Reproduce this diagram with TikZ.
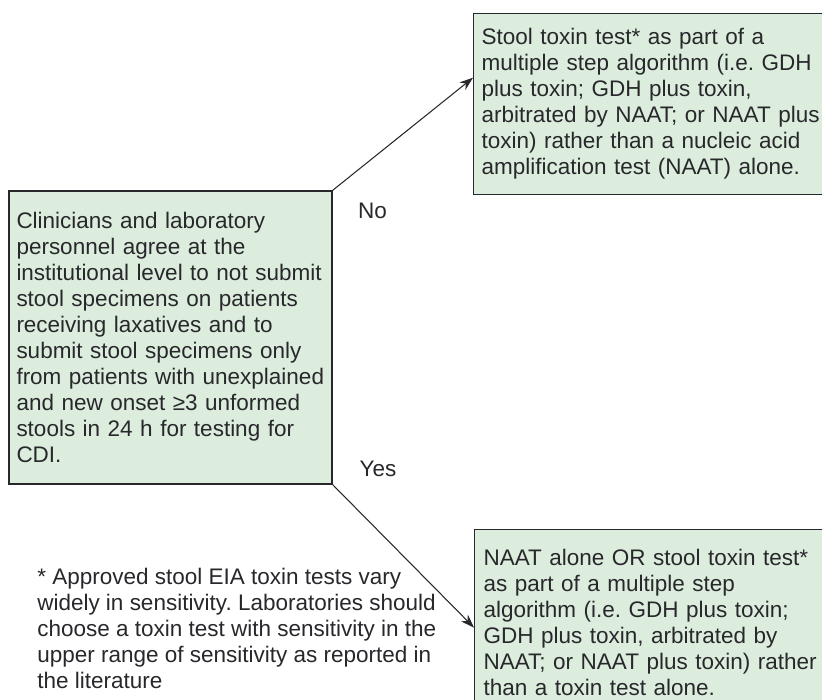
\documentclass[tikz,border=0pt]{standalone}
\usepackage{fontspec}
\setmainfont{Liberation Sans}
\usepackage{tikz}
\usetikzlibrary{arrows.meta, positioning}
\frenchspacing
\definecolor{boxgreen}{RGB}{220,237,221}
\definecolor{inkgray}{RGB}{40,40,44}
\tikzstyle{block} = [rectangle, draw=inkgray, line width=0.9pt, fill=boxgreen, text=inkgray, align=left, inner ysep=0pt, font=\fontsize{16}{18.5}\selectfont]
\tikzstyle{label} = [text=inkgray, font=\fontsize{16}{18.5}\selectfont]
\tikzstyle{arrow} = [-{Stealth[length=3.4mm, width=2.4mm]}, draw=inkgray, line width=0.75pt]

\begin{document}
\begin{tikzpicture}

    \path[use as bounding box, fill=white] (0, 0) rectangle (20.55, 17.5);

    \node (agree) [block, text width=7.7cm, inner xsep=0.1875cm, minimum height=7.325cm] at (4.2625, 9.0625) {Clinicians and laboratory\\ personnel agree at the\\ institutional level to not submit\\ stool specimens on patients\\ receiving laxatives and to\\ submit stool specimens only\\ from patients with unexplained\\ and new onset ≥3 unformed\\ stools in 24 h for testing for\\ CDI.};
    \node (notest) [block, text width=10.5cm, inner xsep=0.2cm, minimum height=4.525cm, anchor=north west] at (11.825, 17.175) {Stool toxin test* as part of a\\ multiple step algorithm (i.e. GDH\\ plus toxin; GDH plus toxin,\\ arbitrated by NAAT; or NAAT plus\\ toxin) rather than a nucleic acid\\ amplification test (NAAT) alone.};
    \node (yestest) [block, text width=10.5cm, inner xsep=0.225cm, minimum height=4.65cm, anchor=north west] at (11.85, 4.275) {NAAT alone OR stool toxin test*\\ as part of a multiple step\\ algorithm (i.e. GDH plus toxin;\\ GDH plus toxin, arbitrated by\\ NAAT; or NAAT plus toxin) rather\\ than a toxin test alone.};

    \node (no) [label] at (9.3125, 12.225) {No};
    \node (yes) [label] at (9.45, 5.775) {Yes};
    \node (note) [label, align=left, inner sep=0pt, anchor=north west] at (0.925, 3.3) {* Approved stool EIA toxin tests vary\\ widely in sensitivity. Laboratories should\\ choose a toxin test with sensitivity in the\\ upper range of sensitivity as reported in\\ the literature};

    \draw [arrow] (agree.north east) -- ([yshift=0.66cm]notest.west);
    \draw [arrow] (agree.south east) -- ([yshift=-0.125cm]yestest.west);

\end{tikzpicture}
\end{document}
